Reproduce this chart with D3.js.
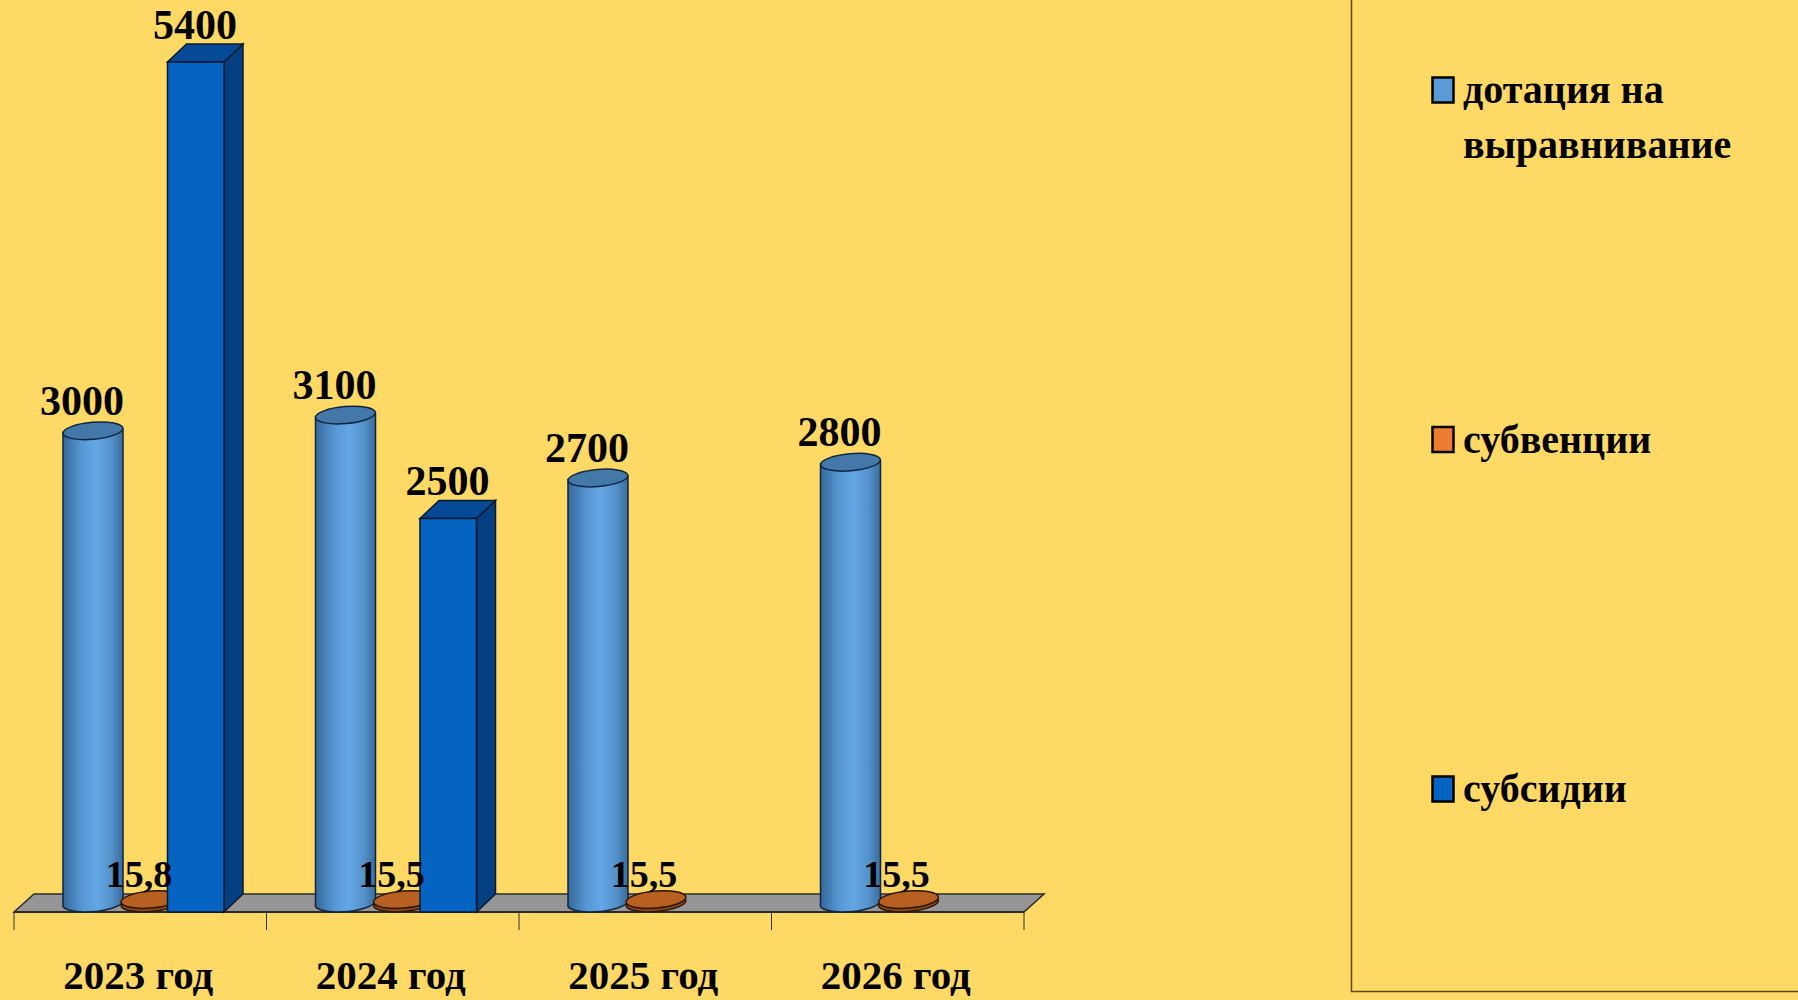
<!DOCTYPE html>
<html>
<head>
<meta charset="utf-8">
<script src="https://cdn.jsdelivr.net/npm/d3@7"></script>
<style>
  html, body { margin: 0; padding: 0; background: #ffd966; overflow: hidden; }
  text { font-family: "Liberation Serif", serif; font-weight: 700; fill: #000; }
</style>
</head>
<body>
<script>
// Chart data
const categories = ['2023 год', '2024 год', '2025 год', '2026 год'];
const dotation = [3000, 3100, 2700, 2800];
const subvention = [15.8, 15.5, 15.5, 15.5];
const subsidy = [5400, 2500, null, null];
const subventionLabels = ['15,8', '15,5', '15,5', '15,5'];
const legendNames = [['дотация на', 'выравнивание'], ['субвенции'], ['субсидии']];
const legendColors = ['#5b9bd5', '#ed7d31', '#0563c1'];

const width = 1798;
const height = 1000;
const baseY = 912;    // front edge of the floor
const midY = 903;     // round marks stand on the middle of the floor
const depthX = 20;
const depthY = 18;
const tilt = -5;

const svg = d3.select('body')
  .append('svg')
  .attr('width', width)
  .attr('height', height)
  .style('display', 'block');

svg.append('rect').attr('width', width).attr('height', height).attr('fill', '#ffd966');

// Scales
const x = d3.scaleBand().domain(categories).range([14, 1024]);
const h = d3.scaleLinear().domain([0, 5400]).range([0, 850]);

const defs = svg.append('defs');
const grad = defs.append('linearGradient').attr('id', 'cyl');
[[0, '#35689a'], [0.3, '#5695d2'], [0.55, '#64a7e5'], [0.8, '#5592cc'], [1, '#3a6c9c']].forEach(s => {
  grad.append('stop').attr('offset', s[0]).attr('stop-color', s[1]);
});

// Floor
svg.append('path')
  .attr('d', `M14,${baseY} L${14 + depthX},${baseY - depthY} L${1024 + depthX},${baseY - depthY} L1024,${baseY} Z`)
  .attr('fill', '#969696')
  .attr('stroke', '#2b2b2b')
  .attr('stroke-width', 1.5);

// Axis line with ticks on the category borders
const tickPos = categories.map(c => x(c)).concat(x.range()[1]);
svg.append('line')
  .attr('x1', 14).attr('x2', 1024).attr('y1', baseY).attr('y2', baseY)
  .attr('stroke', '#2b2b2b').attr('stroke-width', 2);
svg.selectAll('.tick-mark')
  .data(tickPos)
  .enter().append('line')
  .attr('class', 'tick-mark')
  .attr('x1', d => d).attr('x2', d => d)
  .attr('y1', baseY).attr('y2', baseY + 18)
  .attr('stroke', '#333').attr('stroke-width', 1);

// Category labels
const xAxis = d3.axisBottom(x).tickSize(0);
svg.append('g')
  .attr('transform', `translate(-2,${baseY + 45})`)
  .call(xAxis)
  .call(g => g.select('.domain').remove())
  .selectAll('text')
  .attr('font-size', 41)
  .style('font-family', '"Liberation Serif", serif');

// One cylinder
function cylinderPath(x0, w, top) {
  const rx = w / 2;
  return `M${x0},${top + 1.5} L${x0},${midY + 1.5} A${rx},8.5 ${tilt} 0 0 ${x0 + w},${midY - 1.5} L${x0 + w},${top - 1.5} Z`;
}

const marks = svg.append('g');

categories.forEach((c, i) => {
  const g = marks.append('g');
  const x0 = x(c);

  // dotation: cylinder
  const cx = x0 + 49;
  const cw = 60;
  const cTop = midY - h(dotation[i]);
  g.append('path')
    .attr('d', cylinderPath(cx, cw, cTop))
    .attr('fill', 'url(#cyl)')
    .attr('stroke', '#0e2640')
    .attr('stroke-width', 1.5);
  g.append('ellipse')
    .attr('cx', cx + cw / 2).attr('cy', cTop)
    .attr('rx', cw / 2).attr('ry', 8.5)
    .attr('transform', `rotate(${tilt} ${cx + cw / 2} ${cTop})`)
    .attr('fill', '#4478a8')
    .attr('stroke', '#0e2640')
    .attr('stroke-width', 1.5);

  // subvention: flat disc
  const ox = x0 + 137;
  const oTop = midY - h(subvention[i]) - 1;
  g.append('ellipse')
    .attr('cx', ox).attr('cy', midY)
    .attr('rx', 30).attr('ry', 8.5)
    .attr('transform', `rotate(${tilt} ${ox} ${midY})`)
    .attr('fill', '#8a4716').attr('stroke', '#2b1606').attr('stroke-width', 1.5);
  g.append('ellipse')
    .attr('cx', ox).attr('cy', oTop)
    .attr('rx', 30).attr('ry', 8.5)
    .attr('transform', `rotate(${tilt} ${ox} ${oTop})`)
    .attr('fill', '#b85f22').attr('stroke', '#2b1606').attr('stroke-width', 1.5);

  // subsidy: box
  if (subsidy[i] != null) {
    const bx = x0 + 153.5;
    const bw = 56.5;
    const bTop = baseY - h(subsidy[i]);
    g.append('path')
      .attr('d', `M${bx + bw},${bTop} L${bx + bw + depthX - 1},${bTop - depthY} L${bx + bw + depthX - 1},${baseY - depthY} L${bx + bw},${baseY} Z`)
      .attr('fill', '#043f80').attr('stroke', '#0b1a2e').attr('stroke-width', 1.5);
    g.append('path')
      .attr('d', `M${bx},${bTop} L${bx + depthX - 1},${bTop - depthY} L${bx + bw + depthX - 1},${bTop - depthY} L${bx + bw},${bTop} Z`)
      .attr('fill', '#044a96').attr('stroke', '#0b1a2e').attr('stroke-width', 1.5);
    g.append('rect')
      .attr('x', bx).attr('y', bTop).attr('width', bw).attr('height', h(subsidy[i]))
      .attr('fill', '#0563c1').attr('stroke', '#0b1a2e').attr('stroke-width', 1.5);
  }
});

// Data labels go on top of every mark
const labels = svg.append('g').attr('text-anchor', 'middle').attr('font-size', 42);
categories.forEach((c, i) => {
  const x0 = x(c);
  labels.append('text')
    .attr('x', x0 + 68).attr('y', midY - h(dotation[i]) - 16)
    .text(dotation[i]);
  labels.append('text')
    .attr('x', x0 + 125).attr('y', midY - h(subvention[i]) - 14)
    .attr('font-size', 38)
    .text(subventionLabels[i]);
  if (subsidy[i] != null) {
    labels.append('text')
      .attr('x', x0 + 181).attr('y', baseY - h(subsidy[i]) - 23)
      .text(subsidy[i]);
  }
});

// Legend
svg.append('path')
  .attr('d', `M1351.5,0 L1351.5,991.5 L${width},991.5`)
  .attr('fill', 'none')
  .attr('stroke', '#5c4a1c')
  .attr('stroke-width', 1.5);

const legendY = d3.scalePoint().domain(d3.range(legendNames.length)).range([90, 789]);
legendNames.forEach((lines, i) => {
  const cy = legendY(i);
  svg.append('rect')
    .attr('x', 1432.5).attr('y', cy - 12.5).attr('width', 21).attr('height', 25)
    .attr('fill', legendColors[i]).attr('stroke', '#000').attr('stroke-width', 2.5);
  lines.forEach((t, k) => {
    svg.append('text')
      .attr('x', 1463).attr('y', cy + 13 + k * 55)
      .attr('font-size', 40)
      .text(t);
  });
});
</script>
</body>
</html>
